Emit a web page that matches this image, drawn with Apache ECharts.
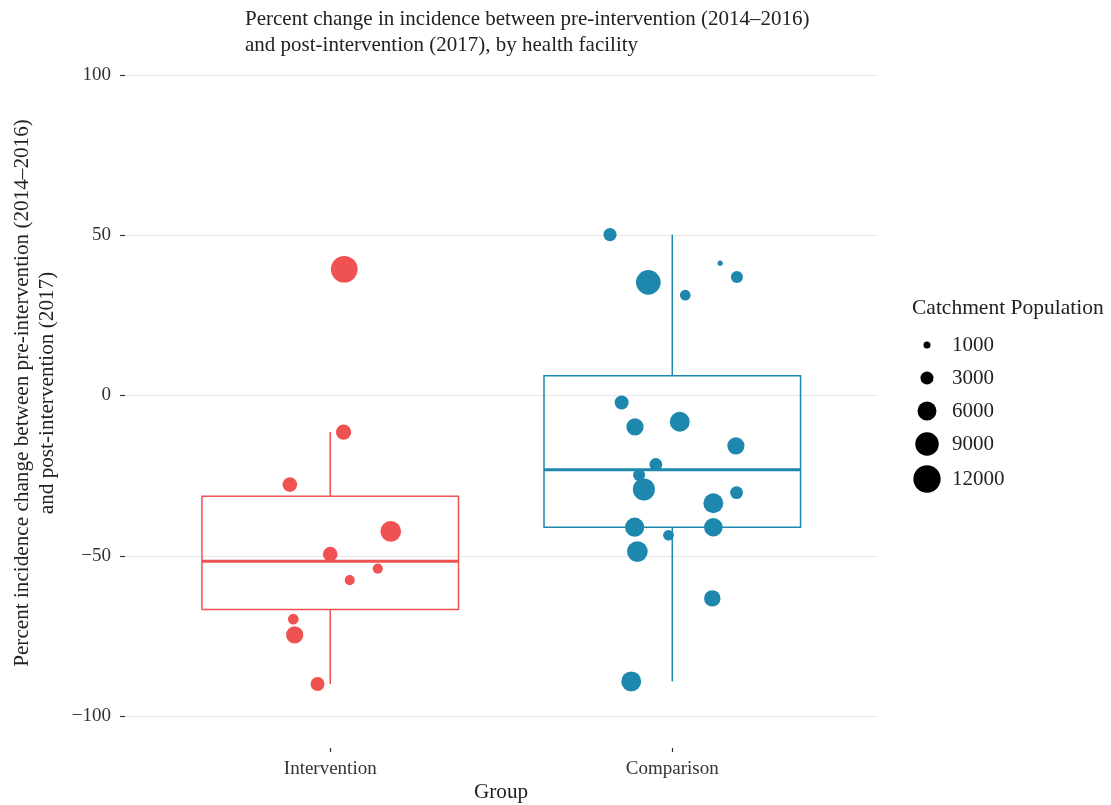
<!DOCTYPE html>
<html>
<head>
<meta charset="utf-8">
<script src="https://cdn.jsdelivr.net/npm/echarts@6/dist/echarts.min.js"></script>
<style>html,body{margin:0;padding:0;background:#fff;}#c{width:1111px;height:805px;}</style>
</head>
<body>
<div id="c"></div>
<script>
// ---- data ----
const categories = ['Intervention', 'Comparison'];
const groupColors = ['#F05252', '#1D87AE'];

// Intervention: jittered x position, percent change, catchment population
const interventionX   = [1.041, 1.039, 0.882, 1.177, 1.000, 1.139, 1.057, 0.892, 0.896, 0.963];
const interventionY   = [39.4, -11.4, -27.8, -42.4, -49.5, -54.0, -57.6, -69.8, -74.7, -90.0];
const interventionPop = [11500, 4000, 3700, 7100, 3700, 1900, 1900, 2100, 5000, 3400];

// Comparison
const comparisonX   = [1.818, 1.930, 2.140, 2.189, 2.038, 1.852, 1.891, 2.022, 2.186, 1.952,
                       1.903, 1.917, 2.188, 2.120, 1.890, 2.120, 1.989, 1.898, 2.117, 1.880];
const comparisonY   = [50.2, 35.3, 41.3, 37.0, 31.3, -2.2, -9.8, -8.2, -15.7, -21.5,
                       -24.8, -29.3, -30.3, -33.6, -41.1, -41.1, -43.6, -48.7, -63.3, -89.2];
const comparisonPop = [3100, 9900, 600, 2600, 2100, 3400, 5000, 6600, 5000, 2900,
                       2600, 8000, 2900, 6600, 6200, 5800, 2100, 7100, 4600, 6600];

const yTicks = [-100, -50, 0, 50, 100];
const legendValues = [1000, 3000, 6000, 9000, 12000];

const titleLines = ['Percent change in incidence between pre-intervention (2014\u20132016)',
                    'and post-intervention (2017), by health facility'];
const yNameLines = ['Percent incidence change between pre-intervention (2014\u20132016)',
                    'and post-intervention (2017)'];
const xName = 'Group';
const legendTitle = 'Catchment Population';

// ---- helpers ----
const FONT = '"Liberation Serif", "DejaVu Serif", serif';
function sizeOf(pop) { return Math.max(2, 0.26 * Math.sqrt(pop) - 1.2); }
function quantile(arr, p) {
  const s = arr.slice().sort((a, b) => a - b);
  const h = (s.length - 1) * p, lo = Math.floor(h), hi = Math.ceil(h);
  return s[lo] + (h - lo) * (s[hi] - s[lo]);
}
function boxStats(pos, vals) {
  const q1 = quantile(vals, 0.25), med = quantile(vals, 0.5), q3 = quantile(vals, 0.75);
  const iqr = q3 - q1;
  const inside = vals.filter(v => v >= q1 - 1.5 * iqr && v <= q3 + 1.5 * iqr);
  return [pos, q1, med, q3, Math.min.apply(null, inside), Math.max.apply(null, inside)];
}
const boxData = [boxStats(1, interventionY), boxStats(2, comparisonY)];
function pts(xs, ys, ps) { return xs.map((x, i) => [x, ys[i], ps[i]]); }

function renderBox(params, api) {
  const x = api.value(0), q1 = api.value(1), med = api.value(2), q3 = api.value(3),
        lo = api.value(4), hi = api.value(5);
  const hw = 0.375;
  const c = groupColors[params.dataIndex];
  const tl = api.coord([x - hw, q3]), br = api.coord([x + hw, q1]);
  const ml = api.coord([x - hw, med]), mr = api.coord([x + hw, med]);
  const pHi = api.coord([x, hi]), pQ3 = api.coord([x, q3]), pQ1 = api.coord([x, q1]), pLo = api.coord([x, lo]);
  return {
    type: 'group',
    children: [
      { type: 'line', shape: { x1: pHi[0], y1: pHi[1], x2: pQ3[0], y2: pQ3[1] }, style: { stroke: c, lineWidth: 1.5 } },
      { type: 'line', shape: { x1: pQ1[0], y1: pQ1[1], x2: pLo[0], y2: pLo[1] }, style: { stroke: c, lineWidth: 1.5 } },
      { type: 'rect', shape: { x: tl[0], y: tl[1], width: br[0] - tl[0], height: br[1] - tl[1] }, style: { fill: 'none', stroke: c, lineWidth: 1.5 } },
      { type: 'line', shape: { x1: ml[0], y1: ml[1], x2: mr[0], y2: mr[1] }, style: { stroke: c, lineWidth: 3 } }
    ]
  };
}

// ---- graphics: titles and size legend ----
const textColor = '#222';
const TITLE_SIZE = 21.2;
const graphics = [];
titleLines.forEach((t, i) => graphics.push({
  type: 'text', x: 245, y: 19 + i * 26,
  style: { text: t, font: '21px ' + FONT, fill: textColor, textAlign: 'left', textVerticalAlign: 'middle' }
}));
yNameLines.forEach((t, i) => graphics.push({
  type: 'text', x: 22 + i * 25, y: 393, rotation: Math.PI / 2,
  style: { text: t, font: TITLE_SIZE + 'px ' + FONT, fill: textColor, textAlign: 'center', textVerticalAlign: 'middle' }
}));
graphics.push({
  type: 'text', x: 501, y: 792,
  style: { text: xName, font: TITLE_SIZE + 'px ' + FONT, fill: textColor, textAlign: 'center', textVerticalAlign: 'middle' }
});
graphics.push({
  type: 'text', x: 912, y: 308,
  style: { text: legendTitle, font: '21.5px ' + FONT, fill: textColor, textAlign: 'left', textVerticalAlign: 'middle' }
});
const legendY = [345, 378, 411, 444, 479];
legendValues.forEach((v, i) => {
  graphics.push({ type: 'circle', shape: { cx: 927, cy: legendY[i], r: sizeOf(v) / 2 }, style: { fill: '#000' } });
  graphics.push({
    type: 'text', x: 952, y: legendY[i],
    style: { text: String(v), font: '21px ' + FONT, fill: textColor, textAlign: 'left', textVerticalAlign: 'middle' }
  });
});

const chart = echarts.init(document.getElementById('c'), null, { renderer: 'canvas' });
chart.setOption({
  animation: false,
  backgroundColor: '#fff',
  grid: { left: 125, right: 233.5, top: 75, bottom: 89, containLabel: false },
  xAxis: {
    type: 'value', min: 0.4, max: 2.6, offset: 32,
    axisLine: { show: false, onZero: false },
    axisTick: { show: true, length: 4, lineStyle: { color: '#333', width: 1.2 }, customValues: [1, 2] },
    axisLabel: {
      customValues: [1, 2], margin: 12, color: '#333', fontFamily: FONT, fontSize: 19,
      formatter: v => categories[Math.round(v) - 1] || ''
    },
    splitLine: { show: false }
  },
  yAxis: {
    type: 'value', min: -100, max: 100, interval: 50,
    axisLine: { show: false },
    axisTick: { show: true, length: 5, lineStyle: { color: '#333', width: 1.2 } },
    axisLabel: {
      margin: 14, color: '#333', fontFamily: FONT, fontSize: 19,
      formatter: v => String(v).replace('-', '\u2212')
    },
    splitLine: { show: true, lineStyle: { color: '#e6e6e6', width: 1 } }
  },
  graphic: graphics,
  series: [
    {
      type: 'scatter', name: categories[0], z: 2,
      data: pts(interventionX, interventionY, interventionPop),
      symbolSize: v => sizeOf(v[2]),
      itemStyle: { color: groupColors[0], opacity: 1 }
    },
    {
      type: 'scatter', name: categories[1], z: 2,
      data: pts(comparisonX, comparisonY, comparisonPop),
      symbolSize: v => sizeOf(v[2]),
      itemStyle: { color: groupColors[1], opacity: 1 }
    },
    {
      type: 'custom', z: 3,
      renderItem: renderBox,
      encode: { x: 0, y: [1, 2, 3, 4, 5] },
      data: boxData
    }
  ]
});
</script>
</body>
</html>
